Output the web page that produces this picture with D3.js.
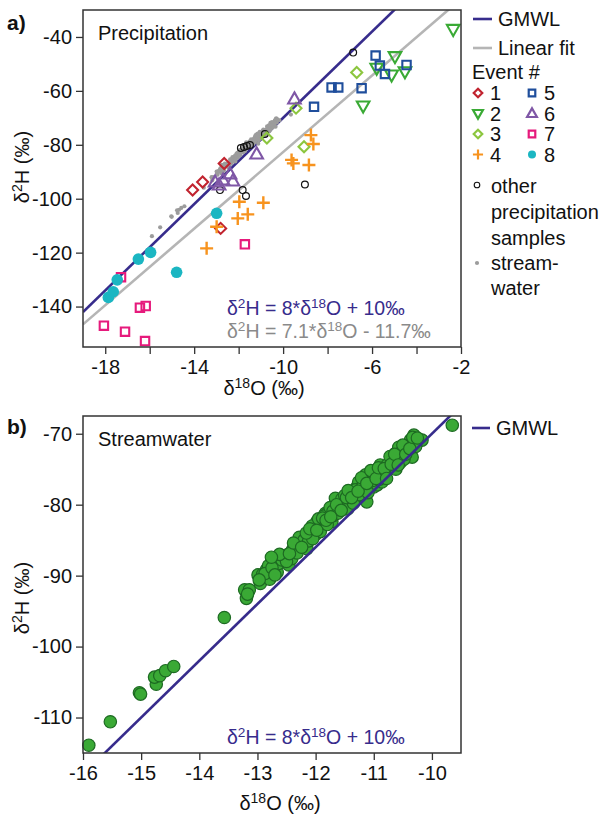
<!DOCTYPE html>
<html>
<head>
<meta charset="UTF-8">
<title>Isotopes</title>
<script src="https://cdn.jsdelivr.net/npm/d3@7"></script>
<style>
    body { margin: 0; background: #fff; }
    text { font-family: "Liberation Sans", Arial, sans-serif; fill: #111; }
</style>
</head>
<body>
<svg id="chart" width="603" height="819"></svg>
<script>
// ---- data (delta18O, delta2H) ----
var ev1 = [[-14.07,-96.8],[-13.62,-93.8],[-12.65,-86.9],[-12.81,-111.0]];
var ev2 = [[-2.35,-37.2],[-4.97,-47.3],[-5.79,-51.6],[-5.12,-54.1],[-4.52,-52.9],[-6.40,-65.6]];
var ev3 = [[-9.42,-66.4],[-10.73,-77.5],[-6.69,-53.2],[-9.06,-80.7]];
var ev4 = [[-8.75,-76.4],[-8.64,-79.7],[-9.62,-85.6],[-9.54,-86.9],[-8.84,-87.5],[-11.97,-101.1],
           [-10.89,-101.5],[-12.04,-107.3],[-11.59,-105.8],[-12.99,-110.4],[-13.44,-118.4]];
var ev5 = [[-5.84,-46.9],[-5.65,-50.6],[-5.42,-53.7],[-4.45,-50.4],[-6.47,-59.0],[-7.82,-58.7],[-7.52,-58.7],[-8.61,-65.9]];
var ev6 = [[-9.49,-63.0],[-11.19,-83.4],[-13.06,-93.8],[-12.70,-93.1],[-12.39,-90.8],[-12.26,-93.4],[-12.88,-94.9]];
var ev7 = [[-17.29,-129.1],[-18.06,-147.1],[-17.11,-149.3],[-16.21,-152.8],[-16.44,-140.4],[-16.18,-139.8],[-11.72,-116.9]];
var ev8 = [[-17.86,-136.6],[-17.64,-134.5],[-17.46,-130.1],[-16.51,-122.4],[-15.96,-119.9],[-14.79,-127.3],[-12.99,-105.4]];
var otherPrecip = [[-6.85,-45.8],[-9.02,-94.7],[-12.84,-96.8],[-11.82,-96.8],[-11.67,-99.0],
                   [-11.90,-81.2],[-11.76,-80.8],[-11.63,-80.4],[-11.49,-80.1],[-10.82,-76.0]];
var stream = [
    [-15.90,-113.9],[-15.53,-110.6],[-15.03,-106.5],[-15.01,-106.7],[-14.74,-105.3],[-14.77,-104.3],
    [-14.68,-104.1],[-14.58,-103.4],[-14.44,-102.8],[-13.57,-95.9],[-13.19,-93.2],[-13.22,-92.0],
    [-13.14,-92.0],[-12.95,-91.1],[-12.99,-89.9],[-12.91,-89.8],[-12.79,-90.5],[-12.84,-89.1],
    [-12.81,-88.6],[-12.71,-87.6],[-12.66,-89.5],[-12.64,-88.3],[-12.87,-89.7],[-12.58,-87.8],
    [-12.49,-87.1],[-12.46,-88.5],[-12.41,-87.6],[-12.35,-85.7],[-12.26,-85.2],[-12.21,-85.9],
    [-12.18,-84.5],[-12.15,-86.2],[-12.09,-84.5],[-12.03,-83.6],[-11.98,-82.4],[-11.95,-83.3],
    [-11.89,-82.4],[-11.83,-81.2],[-11.78,-81.0],[-11.72,-82.4],[-11.66,-80.5],[-11.66,-79.1],
    [-11.58,-79.8],[-11.58,-80.5],[-11.69,-81.5],[-11.49,-79.6],[-11.52,-80.2],[-11.40,-79.4],
    [-11.37,-78.2],[-11.31,-78.9],[-11.29,-79.1],[-11.29,-77.5],[-11.26,-76.8],[-11.23,-77.7],
    [-11.20,-77.7],[-11.17,-76.8],[-11.15,-76.8],[-11.12,-79.6],[-11.09,-76.3],[-11.06,-76.3],
    [-11.06,-77.2],[-11.03,-75.6],[-11.00,-77.5],[-10.94,-75.1],[-10.94,-77.2],[-10.89,-74.4],
    [-10.86,-76.8],[-10.83,-76.1],[-10.77,-74.4],[-10.69,-73.7],[-10.66,-73.7],[-10.63,-72.8],
    [-10.57,-71.9],[-10.54,-74.0],[-10.43,-72.3],[-10.37,-70.9],[-10.34,-73.3],[-10.31,-70.2],
    [-10.17,-70.9],[-9.65,-68.8],
    [-12.55,-87.2],[-12.50,-88.0],[-12.40,-86.4],[-12.32,-86.8],[-12.28,-84.6],[-12.20,-85.0],
    [-12.12,-85.1],[-12.06,-83.0],[-12.00,-84.2],[-11.95,-82.0],[-11.92,-83.8],[-11.86,-81.6],
    [-11.80,-82.8],[-11.75,-80.4],[-11.70,-80.9],[-11.62,-81.2],[-11.55,-79.2],[-11.45,-80.6],
    [-11.42,-78.6],[-11.35,-79.8],[-11.32,-77.9],[-11.25,-78.6],[-11.18,-77.2],[-11.10,-78.3],
    [-11.02,-76.6],[-10.98,-75.9],[-10.90,-76.4],[-10.85,-75.2],[-10.80,-75.7],[-10.74,-74.9],
    [-10.72,-73.2],[-10.66,-74.6],[-10.60,-73.4],[-10.52,-72.6],[-10.48,-73.6],[-10.40,-71.7],
    [-10.35,-71.2],[-10.28,-71.8],[-10.62,-75.0],[-12.75,-88.9],[-12.70,-89.9],[-12.62,-87.0],
    [-12.05,-84.8],[-11.50,-78.7],[-11.14,-75.8],
    [-12.45,-86.9],[-12.38,-85.4],[-12.24,-86.0],[-12.16,-84.0],[-12.10,-83.4],[-11.98,-83.6],
    [-11.88,-81.9],[-11.82,-82.2],[-11.74,-81.7],[-11.64,-80.0],[-11.56,-80.8],[-11.47,-79.0],
    [-11.44,-78.0],[-11.38,-79.0],[-11.27,-78.1],[-11.21,-76.2],[-11.12,-77.0],[-11.05,-75.2],
    [-10.96,-76.3],[-10.92,-74.8],[-10.82,-74.9],[-10.78,-76.3],[-10.70,-74.3],[-10.64,-72.9],
    [-10.58,-74.4],[-10.50,-71.6],[-10.45,-72.9],[-10.38,-72.1],[-10.33,-70.5],[-10.25,-70.6],
    [-13.17,-92.6],[-12.97,-90.6],[-12.76,-87.4]
];
var gmwl = [8, 10];          // slope, intercept
var linFit = [7.1, -11.7];
var ticksA_x = [-18,-16,-14,-12,-10,-8,-6,-4,-2];
var ticksA_y = [-140,-120,-100,-80,-60,-40];
var ticksB_x = [-16,-15,-14,-13,-12,-11,-10];
var ticksB_y = [-110,-100,-90,-80,-70];

var colors = {1:"#c1232f",2:"#3aaa35",3:"#8cc63f",4:"#f7931e",5:"#1f4e9c",6:"#7f57a6",7:"#e61a7c",8:"#1bb6c2"};
var blue = "#372c8c";

var svg = d3.select("#chart");

// marker shapes
function shapePath(kind, s){
    if(kind=="diamond") return "M0,"+(-s)+"L"+s+",0L0,"+s+"L"+(-s)+",0Z";
    if(kind=="square") return "M"+(-s)+","+(-s)+"H"+s+"V"+s+"H"+(-s)+"Z";
    if(kind=="triup") return "M0,"+(-s*1.1)+"L"+(s*1.05)+","+(s*0.75)+"L"+(-s*1.05)+","+(s*0.75)+"Z";
    if(kind=="tridown") return "M0,"+(s*1.1)+"L"+(s*1.05)+","+(-s*0.75)+"L"+(-s*1.05)+","+(-s*0.75)+"Z";
    if(kind=="plus") return "M"+(-s)+",0H"+s+"M0,"+(-s)+"V"+s;
}
var events = [
    {id:1, data:ev1, kind:"diamond", s:5.5},
    {id:2, data:ev2, kind:"tridown", s:6},
    {id:3, data:ev3, kind:"diamond", s:5.5},
    {id:4, data:ev4, kind:"plus", s:6.5},
    {id:5, data:ev5, kind:"square", s:4.2},
    {id:6, data:ev6, kind:"triup", s:6},
    {id:7, data:ev7, kind:"square", s:4.2},
    {id:8, data:ev8, kind:"circle", s:5.8}
];

function isoLabel(sel, sup, rest, size){
    // δ<sup>sup</sup>rest
    sel.append("tspan").text("δ");
    sel.append("tspan").attr("dy", -size*0.35).attr("font-size", size*0.7).text(sup);
    sel.append("tspan").attr("dy", size*0.35).text(rest);
}

function drawAxes(g, x, y, w, h, xt, yt, xfmt){
    g.append("g").attr("transform","translate(0,"+h+")")
        .call(d3.axisBottom(x).tickValues(xt).tickSize(7).tickPadding(6).tickFormat(xfmt));
    g.append("g")
        .call(d3.axisLeft(y).tickValues(yt).tickSize(7).tickPadding(4).tickFormat(function(d){return String(d);}));
    g.selectAll(".domain").remove();
    g.selectAll(".tick line").attr("stroke","#333").attr("stroke-width",1.3);
    g.selectAll(".tick text").attr("font-size",20).attr("fill","#111")
        .attr("font-family","'Liberation Sans', Arial, sans-serif");
    g.append("rect").attr("width",w).attr("height",h)
        .attr("fill","none").attr("stroke","#333").attr("stroke-width",1.5);
}

function mwLine(g, x, y, p, color, id){
    var xd = x.domain();
    var pts = xd.map(function(v){ return [x(v), y(p[0]*v + p[1])]; });
    g.append("line").attr("clip-path","url(#"+id+")")
        .attr("x1",pts[0][0]).attr("y1",pts[0][1]).attr("x2",pts[1][0]).attr("y2",pts[1][1])
        .attr("stroke",color).attr("stroke-width",2.6);
}

function equation(g, x, y, slopeTxt, tail, color){
    var t = g.append("text").attr("x",x).attr("y",y).attr("font-size",19.5).style("fill",color);
    isoLabel(t, "2", "H = "+slopeTxt+"*", 19.5);
    t.append("tspan").text("δ");
    t.append("tspan").attr("dy",-7).attr("font-size",13.5).text("18");
    t.append("tspan").attr("dy",7).text(tail);
    return t;
}

// ---------------- panel a ----------------
var A = {left:83, top:10, w:378, h:337};
var xa = d3.scaleLinear().domain([-19,-2]).range([0,A.w]);
var ya = d3.scaleLinear().domain([-155,-30]).range([A.h,0]);
var ga = svg.append("g").attr("transform","translate("+A.left+","+A.top+")");
ga.append("clipPath").attr("id","clipA").append("rect").attr("width",A.w).attr("height",A.h);

mwLine(ga, xa, ya, linFit, "#b5b5b5", "clipA");
mwLine(ga, xa, ya, gmwl, blue, "clipA");

ga.append("g").selectAll("circle").data(stream).enter().append("circle")
    .attr("cx",function(d){return xa(d[0]);}).attr("cy",function(d){return ya(d[1]);})
    .attr("r",2.1).attr("fill","#9c9c9c");

ga.append("g").selectAll("circle").data(otherPrecip).enter().append("circle")
    .attr("cx",function(d){return xa(d[0]);}).attr("cy",function(d){return ya(d[1]);})
    .attr("r",3.4).attr("fill","none").attr("stroke","#111").attr("stroke-width",1.2);

events.forEach(function(ev){
    var gg = ga.append("g");
    if(ev.kind=="circle"){
        gg.selectAll("circle").data(ev.data).enter().append("circle")
            .attr("cx",function(d){return xa(d[0]);}).attr("cy",function(d){return ya(d[1]);})
            .attr("r",ev.s).attr("fill",colors[ev.id]);
    } else {
        gg.selectAll("path").data(ev.data).enter().append("path")
            .attr("transform",function(d){return "translate("+xa(d[0])+","+ya(d[1])+")";})
            .attr("d",shapePath(ev.kind, ev.s))
            .attr("fill","none").attr("stroke",colors[ev.id])
            .attr("stroke-width", ev.kind=="plus" ? 2.4 : 2.1);
    }
});

drawAxes(ga, xa, ya, A.w, A.h, ticksA_x, ticksA_y, function(d){ return ((d+18)%4==0) ? String(d) : ""; });

ga.append("text").attr("x",15).attr("y",30).attr("font-size",20).text("Precipitation");
equation(ga, 144, 305, "8", "O + 10‰", blue);
equation(ga, 144, 327.5, "7.1", "O - 11.7‰", "#8a8a8a");

// axis titles a
var xtA = svg.append("text").attr("x",A.left+A.w/2-8).attr("y",395).attr("text-anchor","middle").attr("font-size",20);
isoLabel(xtA, "18", "O (‰)", 20);
var ytA = svg.append("text").attr("transform","translate(29,167) rotate(-90)").attr("text-anchor","middle").attr("font-size",20);
isoLabel(ytA, "2", "H (‰)", 20);
svg.append("text").attr("x",7).attr("y",30).attr("font-size",21).attr("font-weight","bold").text("a)");

// legend a
var lg = svg.append("g");
lg.append("line").attr("x1",473).attr("x2",492).attr("y1",19).attr("y2",19).attr("stroke",blue).attr("stroke-width",2.6);
lg.append("text").attr("x",498).attr("y",26).attr("font-size",20).text("GMWL");
lg.append("line").attr("x1",473).attr("x2",492).attr("y1",48).attr("y2",48).attr("stroke","#b5b5b5").attr("stroke-width",2.6);
lg.append("text").attr("x",498).attr("y",55).attr("font-size",20).text("Linear fit");
lg.append("text").attr("x",472).attr("y",79).attr("font-size",20).text("Event #");
events.forEach(function(ev, i){
    var cx = i < 4 ? 478 : 532, cy = 93 + (i%4)*20.5;
    if(ev.kind=="circle"){
        lg.append("circle").attr("cx",cx).attr("cy",cy).attr("r",4).attr("fill",colors[ev.id]);
    } else {
        lg.append("path").attr("transform","translate("+cx+","+cy+")")
            .attr("d",shapePath(ev.kind, ev.s*0.78)).attr("fill","none")
            .attr("stroke",colors[ev.id]).attr("stroke-width",2.2);
    }
    lg.append("text").attr("x",cx+12).attr("y",cy+7).attr("font-size",20).text(ev.id);
});
lg.append("circle").attr("cx",477).attr("cy",185).attr("r",2.8).attr("fill","none").attr("stroke","#111").attr("stroke-width",1.1);
["other","precipitation","samples"].forEach(function(t,i){
    lg.append("text").attr("x",491).attr("y",193+i*26).attr("font-size",20).text(t);
});
lg.append("circle").attr("cx",477).attr("cy",263).attr("r",2.1).attr("fill","#9c9c9c");
["stream-","water"].forEach(function(t,i){
    lg.append("text").attr("x",491).attr("y",270+i*25).attr("font-size",20).text(t);
});

// ---------------- panel b ----------------
var B = {left:83, top:416, w:378, h:337};
var xb = d3.scaleLinear().domain([-16,-9.5]).range([0,B.w]);
var yb = d3.scaleLinear().domain([-115,-67.5]).range([B.h,0]);
var gb = svg.append("g").attr("transform","translate("+B.left+","+B.top+")");
gb.append("clipPath").attr("id","clipB").append("rect").attr("width",B.w).attr("height",B.h);

gb.append("g").selectAll("circle").data(stream).enter().append("circle")
    .attr("cx",function(d){return xb(d[0]);}).attr("cy",function(d){return yb(d[1]);})
    .attr("r",6.2).attr("fill","#3aa935").attr("stroke","#1d6a22").attr("stroke-width",1.2);
mwLine(gb, xb, yb, gmwl, blue, "clipB");

drawAxes(gb, xb, yb, B.w, B.h, ticksB_x, ticksB_y, function(d){ return String(d); });

gb.append("text").attr("x",15).attr("y",30).attr("font-size",20).text("Streamwater");
equation(gb, 144, 327.5, "8", "O + 10‰", blue);

var xtB = svg.append("text").attr("x",B.left+B.w/2+8).attr("y",810).attr("text-anchor","middle").attr("font-size",20);
isoLabel(xtB, "18", "O (‰)", 20);
var ytB = svg.append("text").attr("transform","translate(29,598) rotate(-90)").attr("text-anchor","middle").attr("font-size",20);
isoLabel(ytB, "2", "H (‰)", 20);
svg.append("text").attr("x",7).attr("y",434).attr("font-size",21).attr("font-weight","bold").text("b)");

svg.append("line").attr("x1",472).attr("x2",490).attr("y1",428).attr("y2",428).attr("stroke",blue).attr("stroke-width",2.6);
svg.append("text").attr("x",496).attr("y",435).attr("font-size",20).text("GMWL");
</script>
</body>
</html>
